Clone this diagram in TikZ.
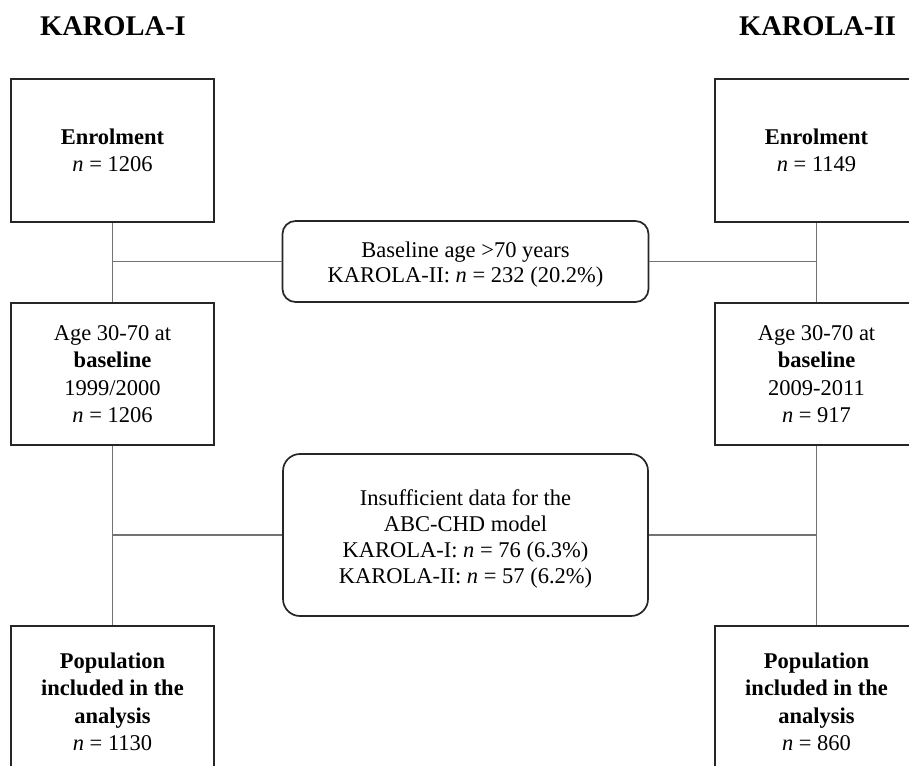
\documentclass[tikz,border=0pt]{standalone}
\usepackage{fontspec}
\setmainfont{Liberation Serif}
\begin{document}
\begin{tikzpicture}[x=1pt,y=-1pt,
  box/.style={draw=black!85, line width=1.7pt, minimum width=203pt, minimum height=143pt, align=center, inner sep=0pt, font=\fontsize{22.5}{27.5}\selectfont},
  rbox/.style={box, rounded corners=13pt},
  conn/.style={draw=black!55, line width=1.7pt},
  title/.style={font=\fontsize{28.5}{32}\selectfont\bfseries}]
\useasboundingbox (0,0) rectangle (909,765);
\node[title] (t1) at (113,26) {KAROLA-I};
\node[title] (t2) at (817.5,26) {KAROLA-II};
\node[box] (L1) at (112.5,150.5) {\textbf{Enrolment}\\\textit{n} = 1206};
\node[box, minimum height=142pt] (L2) at (112.5,374) {Age 30-70 at\\\textbf{baseline}\\1999/2000\\\textit{n} = 1206};
\node[box, minimum height=152pt] (L3) at (112.5,702) {\textbf{Population}\\\textbf{included in the}\\\textbf{analysis}\\\textit{n} = 1130};
\node[box] (R1) at (816.5,150.5) {\textbf{Enrolment}\\\textit{n} = 1149};
\node[box, minimum height=142pt] (R2) at (816.5,374) {Age 30-70 at\\\textbf{baseline}\\2009-2011\\\textit{n} = 917};
\node[box, minimum height=152pt] (R3) at (816.5,702) {\textbf{Population}\\\textbf{included in the}\\\textbf{analysis}\\\textit{n} = 860};
\node[rbox, minimum width=366pt, minimum height=81pt, font=\fontsize{22.5}{25}\selectfont] (M1) at (465.5,261.5) {\rule{0pt}{22pt}Baseline age >70 years\\KAROLA-II: \textit{n} = 232 (20.2\%)};
\node[rbox, rounded corners=17pt, minimum width=365pt, minimum height=162pt, font=\fontsize{22.5}{26}\selectfont] (M2) at (465.5,535) {\rule{0pt}{24pt}Insufficient data for the\\ABC-CHD model\\KAROLA-I: \textit{n} = 76 (6.3\%)\\KAROLA-II: \textit{n} = 57 (6.2\%)};
\draw[conn] (L1.south) -- (L2.north);
\draw[conn] (L2.south) -- (L3.north);
\draw[conn] (R1.south) -- (R2.north);
\draw[conn] (R2.south) -- (R3.north);
\draw[conn] (L1.south |- M1.west) -- (M1.west);
\draw[conn] (M1.east) -- (R1.south |- M1.east);
\draw[conn] (L2.south |- M2.west) -- (M2.west);
\draw[conn] (M2.east) -- (R2.south |- M2.east);
\end{tikzpicture}
\end{document}
